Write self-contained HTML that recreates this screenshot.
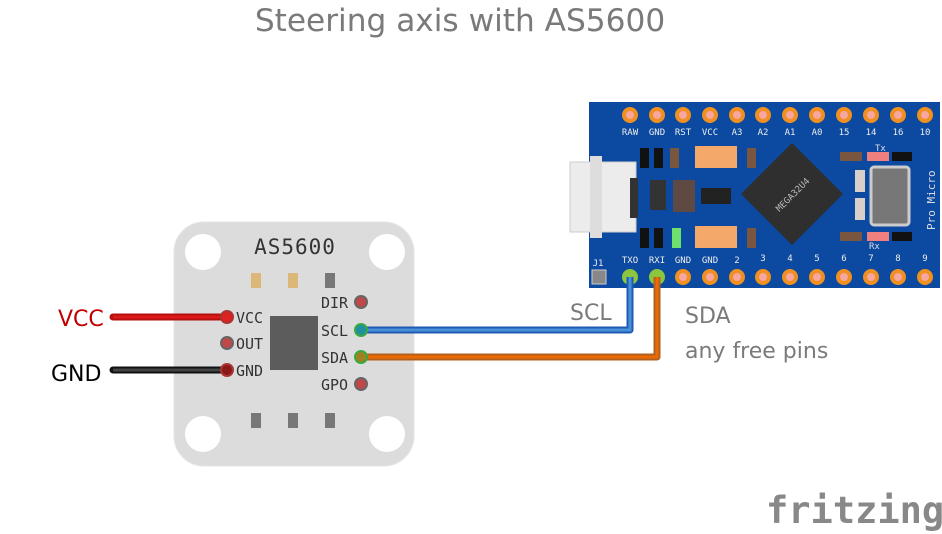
<!DOCTYPE html>
<html><head><meta charset="utf-8"><style>
body{margin:0;background:#fff;width:942px;height:534px;overflow:hidden}
svg{display:block}
text{font-family:"DejaVu Sans","Liberation Sans",sans-serif}
text.m,.m text{font-family:"DejaVu Sans Mono","Liberation Mono",monospace}
</style></head><body>
<svg width="942" height="534" viewBox="0 0 942 534" xmlns="http://www.w3.org/2000/svg">
<text x="460" y="31" font-size="31.2" fill="#7a7a7a" text-anchor="middle">Steering axis with AS5600</text>

<!-- AS5600 board -->
<rect x="174" y="222" width="240" height="244" rx="30" fill="#dcdcdc" stroke="#e6e6e6"/>
<circle cx="203" cy="252" r="18" fill="#fff"/><circle cx="387" cy="252" r="18" fill="#fff"/>
<circle cx="203" cy="434" r="18" fill="#fff"/><circle cx="387" cy="434" r="18" fill="#fff"/>
<text x="295" y="254" class="m" font-size="21" fill="#333" text-anchor="middle" letter-spacing="1">AS5600</text>
<rect x="251" y="273" width="10" height="15" fill="#dcb878"/><rect x="288" y="273" width="10" height="15" fill="#dcb878"/><rect x="325" y="273" width="10" height="15" fill="#777"/>
<rect x="251" y="413" width="10" height="15" fill="#777"/><rect x="288" y="413" width="10" height="15" fill="#777"/><rect x="325" y="413" width="10" height="15" fill="#777"/>
<rect x="270" y="316" width="48" height="54" fill="#5c5c5c"/>
<g class="m" font-size="15" fill="#333">
<text x="236" y="323">VCC</text><text x="236" y="349">OUT</text><text x="236" y="376">GND</text>
<text x="321" y="308">DIR</text><text x="321" y="336">SCL</text><text x="321" y="363">SDA</text><text x="321" y="390">GPO</text>
</g>
<g fill="#c04848" stroke="#666" stroke-width="2">
<circle cx="227" cy="343" r="6"/><circle cx="361" cy="302" r="6"/><circle cx="361" cy="384" r="6"/>
</g>

<!-- Pro Micro -->
<rect x="589" y="102" width="351" height="186" fill="#0b4aa0"/>
<rect x="570" y="162" width="66" height="70" fill="#ececec" stroke="#ccc"/>
<rect x="590" y="156" width="12" height="82" fill="#ddd"/>
<rect x="630" y="178" width="8" height="40" fill="#333"/>
<rect x="640" y="148" width="9" height="20" fill="#111"/><rect x="654" y="148" width="9" height="20" fill="#111"/><rect x="670" y="148" width="9" height="20" fill="#7a5540"/>
<rect x="695" y="146" width="42" height="22" fill="#f4a86a"/><rect x="695" y="226" width="42" height="22" fill="#f4a86a"/>
<rect x="747" y="148" width="9" height="20" fill="#7a5540"/><rect x="747" y="228" width="9" height="20" fill="#7a5540"/>
<rect x="650" y="180" width="16" height="30" fill="#333"/><rect x="673" y="180" width="22" height="32" fill="#5e4a42"/><rect x="701" y="188" width="30" height="16" fill="#222"/>
<rect x="640" y="228" width="9" height="20" fill="#111"/><rect x="654" y="228" width="9" height="20" fill="#111"/><rect x="672" y="228" width="9" height="20" fill="#6ee06e"/>
<polygon points="792,143 843,194 792,245 741,194" fill="#2f2f2f"/>
<text x="792" y="198" class="m" font-size="9" fill="#bbb" text-anchor="middle" transform="rotate(-45 792 194)">MEGA32U4</text>
<rect x="840" y="152" width="22" height="9" fill="#7a5540"/><rect x="867" y="152" width="22" height="9" fill="#f07f7f"/><rect x="892" y="152" width="20" height="9" fill="#111"/>
<rect x="840" y="232" width="22" height="9" fill="#7a5540"/><rect x="867" y="232" width="22" height="9" fill="#f07f7f"/><rect x="892" y="232" width="20" height="9" fill="#111"/>
<rect x="855" y="170" width="10" height="22" fill="#d8d0c8"/><rect x="855" y="198" width="10" height="22" fill="#d8d0c8"/>
<rect x="871" y="167" width="38" height="58" rx="3" fill="#777" stroke="#ccc" stroke-width="3"/>
<text x="875" y="151" class="m" font-size="9" fill="#ddd">Tx</text><text x="869" y="249" class="m" font-size="9" fill="#ddd">Rx</text>
<text x="935" y="230" class="m" font-size="11" fill="#ddd" transform="rotate(-90 935 230)">Pro Micro</text>
<g fill="#f7a6a0" stroke="#f09020" stroke-width="4">
<circle cx="630" cy="115" r="6"/><circle cx="657" cy="115" r="6"/><circle cx="683" cy="115" r="6"/><circle cx="710" cy="115" r="6"/><circle cx="737" cy="115" r="6"/><circle cx="763" cy="115" r="6"/><circle cx="790" cy="115" r="6"/><circle cx="817" cy="115" r="6"/><circle cx="844" cy="115" r="6"/><circle cx="871" cy="115" r="6"/><circle cx="898" cy="115" r="6"/><circle cx="925" cy="115" r="6"/>
<circle cx="683" cy="277" r="6"/><circle cx="710" cy="277" r="6"/><circle cx="737" cy="277" r="6"/><circle cx="763" cy="277" r="6"/><circle cx="790" cy="277" r="6"/><circle cx="817" cy="277" r="6"/><circle cx="844" cy="277" r="6"/><circle cx="871" cy="277" r="6"/><circle cx="898" cy="277" r="6"/><circle cx="925" cy="277" r="6"/>
</g>
<circle cx="630" cy="277" r="8" fill="#8cc63e"/><circle cx="657" cy="277" r="8" fill="#8cc63e"/>
<rect x="592" y="270" width="14" height="14" fill="#888" stroke="#ccc"/>
<g class="m" font-size="9" fill="#eee" text-anchor="middle">
<text x="630" y="135">RAW</text><text x="657" y="135">GND</text><text x="683" y="135">RST</text><text x="710" y="135">VCC</text><text x="737" y="135">A3</text><text x="763" y="135">A2</text><text x="790" y="135">A1</text><text x="817" y="135">A0</text><text x="844" y="135">15</text><text x="871" y="135">14</text><text x="898" y="135">16</text><text x="925" y="135">10</text>
<text x="630" y="263">TXO</text><text x="657" y="263">RXI</text><text x="683" y="263">GND</text><text x="710" y="263">GND</text><text x="737" y="263">2</text><text x="763" y="261">3</text><text x="790" y="261">4</text><text x="817" y="261">5</text><text x="844" y="261">6</text><text x="871" y="261">7</text><text x="898" y="261">8</text><text x="925" y="261">9</text><text x="598" y="266">J1</text>
</g>

<!-- wires -->
<path d="M113 317H227" stroke="#b50f0f" stroke-width="7" stroke-linecap="round" fill="none"/>
<path d="M113 317H227" stroke="#dd1a1a" stroke-width="3" fill="none"/>
<circle cx="227" cy="317" r="6" fill="#dd2222" stroke="#aa3333" stroke-width="2"/>
<path d="M113 370H227" stroke="#111" stroke-width="7" stroke-linecap="round" fill="none"/>
<path d="M113 370H227" stroke="#444" stroke-width="3" fill="none"/>
<circle cx="227" cy="370" r="6" fill="#8a1a1a" stroke="#aa3333" stroke-width="2"/>
<path d="M361 330H630V277" stroke="#1e5bb4" stroke-width="7" stroke-linejoin="round" fill="none"/>
<path d="M361 330H630V277" stroke="#4a90d8" stroke-width="3" fill="none"/>
<path d="M361 357H657V277" stroke="#b06020" stroke-width="7" stroke-linejoin="round" fill="none"/>
<path d="M361 357H657V277" stroke="#ee6a00" stroke-width="3" fill="none"/>
<circle cx="361" cy="330" r="6" fill="#2090a0" stroke="#3aaa40" stroke-width="2"/>
<circle cx="361" cy="357" r="6" fill="#a08020" stroke="#3aaa40" stroke-width="2"/>

<text x="58" y="326" font-size="22" fill="#c00000">VCC</text>
<text x="51" y="381" font-size="22" fill="#000">GND</text>
<text x="570" y="320" font-size="22" fill="#7a7a7a">SCL</text>
<text x="685" y="323" font-size="22" fill="#7a7a7a">SDA</text>
<text x="685" y="358" font-size="22" fill="#7a7a7a">any free pins</text>
<text x="766" y="523" class="m" font-size="37" font-weight="bold" fill="#888">fritzing</text>
</svg>
</body></html>
